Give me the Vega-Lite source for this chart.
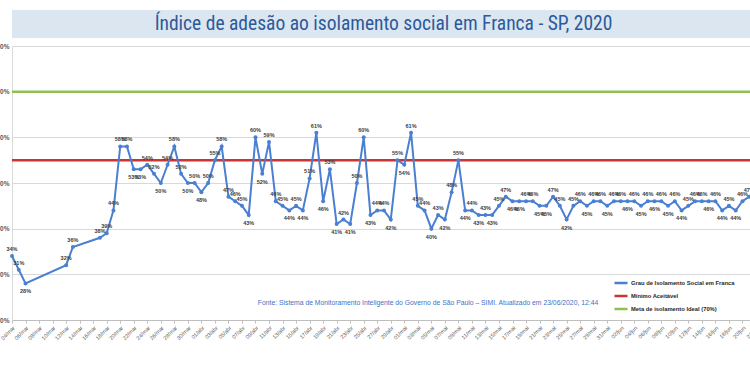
{
  "$schema": "https://vega.github.io/schema/vega-lite/v6.json",
  "padding": {"left": -5, "top": 10, "right": 0, "bottom": 0},
  "background": "white",
  "spacing": 5,
  "config": {
    "view": {"stroke": null},
    "locale": {
      "time": {
        "dateTime": "%A, %e de %B de %Y. %X",
        "date": "%d/%m/%Y",
        "time": "%H:%M:%S",
        "periods": ["AM", "PM"],
        "days": ["Domingo", "Segunda", "Terça", "Quarta", "Quinta", "Sexta", "Sábado"],
        "shortDays": ["Dom", "Seg", "Ter", "Qua", "Qui", "Sex", "Sáb"],
        "months": ["Janeiro", "Fevereiro", "Março", "Abril", "Maio", "Junho", "Julho", "Agosto", "Setembro", "Outubro", "Novembro", "Dezembro"],
        "shortMonths": ["jan", "fev", "mar", "abr", "mai", "jun", "jul", "ago", "set", "out", "nov", "dez"]
      }
    }
  },
  "vconcat": [
    {
      "width": 765,
      "height": 28,
      "view": {"fill": "#dce6f1", "stroke": null},
      "data": {"values": [{"titulo": "Índice de adesão ao isolamento social em Franca - SP, 2020"}]},
      "mark": {"type": "text", "font": "Roboto Condensed, DejaVu Sans Condensed, Roboto", "fontSize": 19.5, "color": "#2b5a9b", "baseline": "middle", "align": "center", "dx": -11},
      "encoding": {"text": {"field": "titulo"}}
    },
    {
      "width": 744,
      "height": 274,
      "title": {
        "text": "Fonte: Sistema de Monitoramento Inteligente do Governo de São Paulo – SIMI. Atualizado em 23/06/2020, 12:44",
        "orient": "bottom", "anchor": "middle", "frame": "group", "offset": -41, "dx": 44,
        "font": "Liberation Sans", "fontSize": 6.8, "fontWeight": "normal", "color": "#4472c4"
      },
      "data": {"values": [
        {"data": "2020/03/04", "valor": 0.34},
        {"data": "2020/03/05", "valor": 0.31},
        {"data": "2020/03/06", "valor": 0.28},
        {"data": "2020/03/12", "valor": 0.32},
        {"data": "2020/03/13", "valor": 0.36},
        {"data": "2020/03/17", "valor": 0.38},
        {"data": "2020/03/18", "valor": 0.39},
        {"data": "2020/03/19", "valor": 0.44},
        {"data": "2020/03/20", "valor": 0.58},
        {"data": "2020/03/21", "valor": 0.58},
        {"data": "2020/03/22", "valor": 0.53},
        {"data": "2020/03/23", "valor": 0.53},
        {"data": "2020/03/24", "valor": 0.54},
        {"data": "2020/03/25", "valor": 0.52},
        {"data": "2020/03/26", "valor": 0.50},
        {"data": "2020/03/27", "valor": 0.54},
        {"data": "2020/03/28", "valor": 0.58},
        {"data": "2020/03/29", "valor": 0.52},
        {"data": "2020/03/30", "valor": 0.50},
        {"data": "2020/03/31", "valor": 0.50},
        {"data": "2020/04/01", "valor": 0.48},
        {"data": "2020/04/02", "valor": 0.50},
        {"data": "2020/04/03", "valor": 0.55},
        {"data": "2020/04/04", "valor": 0.58},
        {"data": "2020/04/05", "valor": 0.47},
        {"data": "2020/04/06", "valor": 0.46},
        {"data": "2020/04/07", "valor": 0.45},
        {"data": "2020/04/08", "valor": 0.43},
        {"data": "2020/04/09", "valor": 0.60},
        {"data": "2020/04/10", "valor": 0.52},
        {"data": "2020/04/11", "valor": 0.59},
        {"data": "2020/04/12", "valor": 0.46},
        {"data": "2020/04/13", "valor": 0.45},
        {"data": "2020/04/14", "valor": 0.44},
        {"data": "2020/04/15", "valor": 0.45},
        {"data": "2020/04/16", "valor": 0.44},
        {"data": "2020/04/17", "valor": 0.51},
        {"data": "2020/04/18", "valor": 0.61},
        {"data": "2020/04/19", "valor": 0.46},
        {"data": "2020/04/20", "valor": 0.53},
        {"data": "2020/04/21", "valor": 0.41},
        {"data": "2020/04/22", "valor": 0.42},
        {"data": "2020/04/23", "valor": 0.41},
        {"data": "2020/04/24", "valor": 0.50},
        {"data": "2020/04/25", "valor": 0.60},
        {"data": "2020/04/26", "valor": 0.43},
        {"data": "2020/04/27", "valor": 0.44},
        {"data": "2020/04/28", "valor": 0.44},
        {"data": "2020/04/29", "valor": 0.42},
        {"data": "2020/04/30", "valor": 0.55},
        {"data": "2020/05/01", "valor": 0.54},
        {"data": "2020/05/02", "valor": 0.61},
        {"data": "2020/05/03", "valor": 0.45},
        {"data": "2020/05/04", "valor": 0.44},
        {"data": "2020/05/05", "valor": 0.40},
        {"data": "2020/05/06", "valor": 0.43},
        {"data": "2020/05/07", "valor": 0.42},
        {"data": "2020/05/08", "valor": 0.48},
        {"data": "2020/05/09", "valor": 0.55},
        {"data": "2020/05/10", "valor": 0.44},
        {"data": "2020/05/11", "valor": 0.44},
        {"data": "2020/05/12", "valor": 0.43},
        {"data": "2020/05/13", "valor": 0.43},
        {"data": "2020/05/14", "valor": 0.43},
        {"data": "2020/05/15", "valor": 0.45},
        {"data": "2020/05/16", "valor": 0.47},
        {"data": "2020/05/17", "valor": 0.46},
        {"data": "2020/05/18", "valor": 0.46},
        {"data": "2020/05/19", "valor": 0.46},
        {"data": "2020/05/20", "valor": 0.46},
        {"data": "2020/05/21", "valor": 0.45},
        {"data": "2020/05/22", "valor": 0.45},
        {"data": "2020/05/23", "valor": 0.47},
        {"data": "2020/05/24", "valor": 0.45},
        {"data": "2020/05/25", "valor": 0.42},
        {"data": "2020/05/26", "valor": 0.45},
        {"data": "2020/05/27", "valor": 0.46},
        {"data": "2020/05/28", "valor": 0.45},
        {"data": "2020/05/29", "valor": 0.46},
        {"data": "2020/05/30", "valor": 0.46},
        {"data": "2020/05/31", "valor": 0.45},
        {"data": "2020/06/01", "valor": 0.46},
        {"data": "2020/06/02", "valor": 0.46},
        {"data": "2020/06/03", "valor": 0.46},
        {"data": "2020/06/04", "valor": 0.46},
        {"data": "2020/06/05", "valor": 0.45},
        {"data": "2020/06/06", "valor": 0.46},
        {"data": "2020/06/07", "valor": 0.46},
        {"data": "2020/06/08", "valor": 0.46},
        {"data": "2020/06/09", "valor": 0.45},
        {"data": "2020/06/10", "valor": 0.46},
        {"data": "2020/06/11", "valor": 0.44},
        {"data": "2020/06/12", "valor": 0.45},
        {"data": "2020/06/13", "valor": 0.46},
        {"data": "2020/06/14", "valor": 0.46},
        {"data": "2020/06/15", "valor": 0.46},
        {"data": "2020/06/16", "valor": 0.46},
        {"data": "2020/06/17", "valor": 0.44},
        {"data": "2020/06/18", "valor": 0.45},
        {"data": "2020/06/19", "valor": 0.44},
        {"data": "2020/06/20", "valor": 0.46},
        {"data": "2020/06/21", "valor": 0.47}
      ]},
      "encoding": {
        "x": {
          "field": "data", "type": "temporal",
          "scale": {"domain": [{"year": 2020, "month": 3, "date": 4}, {"year": 2020, "month": 6, "date": 22}]},
          "axis": {
            "title": null, "format": "%d/%b", "labelAngle": -45, "labelFontSize": 5.5, "labelColor": "#595959",
            "labelFont": "Liberation Sans", "grid": false, "domainColor": "#bfbfbf", "tickColor": "#bfbfbf", "tickSize": 3,
            "labelOverlap": false, "labelFlush": false, "labelBound": false, "labelPadding": 2,
            "values": [
              {"year": 2020, "month": 3, "date": 4}, {"year": 2020, "month": 3, "date": 6}, {"year": 2020, "month": 3, "date": 8}, {"year": 2020, "month": 3, "date": 10},
              {"year": 2020, "month": 3, "date": 12}, {"year": 2020, "month": 3, "date": 14}, {"year": 2020, "month": 3, "date": 16}, {"year": 2020, "month": 3, "date": 18},
              {"year": 2020, "month": 3, "date": 20}, {"year": 2020, "month": 3, "date": 22}, {"year": 2020, "month": 3, "date": 24}, {"year": 2020, "month": 3, "date": 26},
              {"year": 2020, "month": 3, "date": 28}, {"year": 2020, "month": 3, "date": 30},
              {"year": 2020, "month": 4, "date": 1}, {"year": 2020, "month": 4, "date": 3}, {"year": 2020, "month": 4, "date": 5}, {"year": 2020, "month": 4, "date": 7},
              {"year": 2020, "month": 4, "date": 9}, {"year": 2020, "month": 4, "date": 11}, {"year": 2020, "month": 4, "date": 13}, {"year": 2020, "month": 4, "date": 15},
              {"year": 2020, "month": 4, "date": 17}, {"year": 2020, "month": 4, "date": 19}, {"year": 2020, "month": 4, "date": 21}, {"year": 2020, "month": 4, "date": 23},
              {"year": 2020, "month": 4, "date": 25}, {"year": 2020, "month": 4, "date": 27}, {"year": 2020, "month": 4, "date": 29},
              {"year": 2020, "month": 5, "date": 1}, {"year": 2020, "month": 5, "date": 3}, {"year": 2020, "month": 5, "date": 5}, {"year": 2020, "month": 5, "date": 7},
              {"year": 2020, "month": 5, "date": 9}, {"year": 2020, "month": 5, "date": 11}, {"year": 2020, "month": 5, "date": 13}, {"year": 2020, "month": 5, "date": 15},
              {"year": 2020, "month": 5, "date": 17}, {"year": 2020, "month": 5, "date": 19}, {"year": 2020, "month": 5, "date": 21}, {"year": 2020, "month": 5, "date": 23},
              {"year": 2020, "month": 5, "date": 25}, {"year": 2020, "month": 5, "date": 27}, {"year": 2020, "month": 5, "date": 29}, {"year": 2020, "month": 5, "date": 31},
              {"year": 2020, "month": 6, "date": 2}, {"year": 2020, "month": 6, "date": 4}, {"year": 2020, "month": 6, "date": 6}, {"year": 2020, "month": 6, "date": 8},
              {"year": 2020, "month": 6, "date": 10}, {"year": 2020, "month": 6, "date": 12}, {"year": 2020, "month": 6, "date": 14}, {"year": 2020, "month": 6, "date": 16},
              {"year": 2020, "month": 6, "date": 18}, {"year": 2020, "month": 6, "date": 20}, {"year": 2020, "month": 6, "date": 22}
            ]
          }
        },
        "y": {
          "field": "valor", "type": "quantitative",
          "scale": {"domain": [0.2, 0.8], "nice": false, "zero": false},
          "axis": {
            "title": null, "format": ".0%", "values": [0.2, 0.3, 0.4, 0.5, 0.6, 0.7, 0.8],
            "labelFontSize": 6.5, "labelFont": "Liberation Sans", "labelFontWeight": "bold", "labelColor": "#595959",
            "ticks": false, "labelPadding": 3, "grid": true, "gridColor": "#d9d9d9", "domainColor": "#d9d9d9"
          }
        }
      },
      "layer": [
        {
          "data": {"values": [
            {"serie": "Mínimo Aceitável", "valor": 0.55},
            {"serie": "Meta de isolamento Ideal (70%)", "valor": 0.70}
          ]},
          "mark": {"type": "rule", "strokeWidth": 2.5},
          "encoding": {
            "x": null,
            "y": {"field": "valor", "type": "quantitative"},
            "color": {"field": "serie", "type": "nominal", "legend": {"title": null}}
          }
        },
        {
          "mark": {"type": "line", "strokeWidth": 2, "point": {"filled": true, "size": 16}},
          "encoding": {
            "color": {
              "datum": "Grau de Isolamento Social em Franca", "type": "nominal",
              "scale": {
                "domain": ["Grau de Isolamento Social em Franca", "Mínimo Aceitável", "Meta de isolamento Ideal (70%)"],
                "range": ["#4a7fd1", "#cc3333", "#92c050"]
              },
              "legend": {
                "title": null, "orient": "none", "legendX": 601, "legendY": 265,
                "symbolType": "stroke", "symbolSize": 170, "symbolStrokeWidth": 2.5,
                "labelFont": "Liberation Sans", "labelFontWeight": "bold", "labelFontSize": 5.8, "labelColor": "#262626",
                "rowPadding": 0, "labelOffset": 2, "labelLimit": 300
              }
            }
          }
        },
        {
          "transform": [
            {"window": [{"op": "lag", "field": "valor", "as": "ant"}, {"op": "lead", "field": "valor", "as": "prox"}, {"op": "row_number", "as": "n"}], "sort": [{"field": "data"}]},
            {"filter": "!(datum.ant != null && datum.prox != null && ((datum.valor <= datum.ant && datum.valor <= datum.prox && !(datum.valor == datum.ant && datum.valor == datum.prox)) || (datum.valor == datum.ant && datum.valor == datum.prox && datum.n % 2 == 0)))"}
          ],
          "mark": {"type": "text", "font": "Liberation Sans", "fontWeight": "bold", "fontSize": 5.5, "color": "#404040", "dy": -7},
          "encoding": {"text": {"field": "valor", "type": "quantitative", "format": ".0%"}}
        },
        {
          "transform": [
            {"window": [{"op": "lag", "field": "valor", "as": "ant"}, {"op": "lead", "field": "valor", "as": "prox"}, {"op": "row_number", "as": "n"}], "sort": [{"field": "data"}]},
            {"filter": "datum.ant != null && datum.prox != null && ((datum.valor <= datum.ant && datum.valor <= datum.prox && !(datum.valor == datum.ant && datum.valor == datum.prox)) || (datum.valor == datum.ant && datum.valor == datum.prox && datum.n % 2 == 0))"}
          ],
          "mark": {"type": "text", "font": "Liberation Sans", "fontWeight": "bold", "fontSize": 5.5, "color": "#404040", "dy": 8},
          "encoding": {"text": {"field": "valor", "type": "quantitative", "format": ".0%"}}
        }
      ]
    }
  ]
}
